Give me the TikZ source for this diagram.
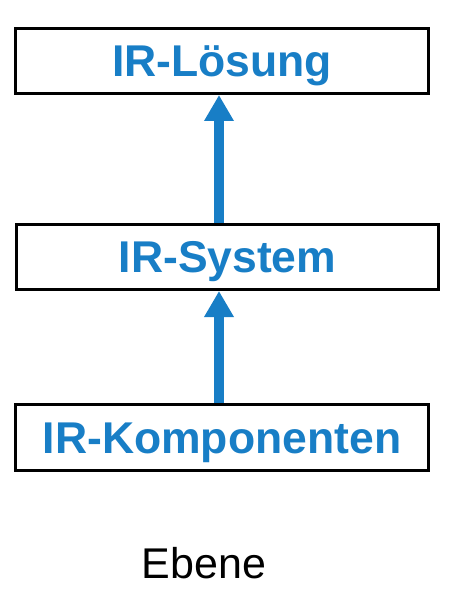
\documentclass[tikz,border=0pt]{standalone}
\usepackage{fontspec}
\setmainfont{Liberation Sans}
\usetikzlibrary{arrows.meta}
\definecolor{irblue}{RGB}{24,126,198}
\tikzset{
  levelbox/.style={draw=black, line width=3pt, inner sep=0pt, outer sep=1.5pt,
    minimum height=65pt, text=irblue,
    font=\fontsize{44.5}{50}\selectfont\bfseries, text height=31.9pt, text depth=0pt},
  uparrow/.style={draw=irblue, line width=10pt, -{Triangle[width=28pt,length=26pt]}}
}
\begin{document}
\begin{tikzpicture}[x=1pt,y=-1pt]
\useasboundingbox (0,0) rectangle (455,591);
\node[levelbox, minimum width=413pt] (top) at (222,61) {IR-Lösung};
\node[levelbox, minimum width=422pt] (mid) at (227.5,257) {IR-System};
\node[levelbox, minimum width=413pt, minimum height=66pt] (bot) at (222,437.5) {IR-Komponenten};
\node[font=\fontsize{43}{50}\selectfont, text height=30.8pt, text depth=0pt, inner sep=0pt] (ebene) at (204,563.5) {Ebene};
\draw[uparrow] ([xshift=-8.5pt]mid.north) -- ([xshift=-3pt]top.south);
\draw[uparrow] ([xshift=-3pt]bot.north) -- ([xshift=-8.5pt]mid.south);
\end{tikzpicture}
\end{document}
